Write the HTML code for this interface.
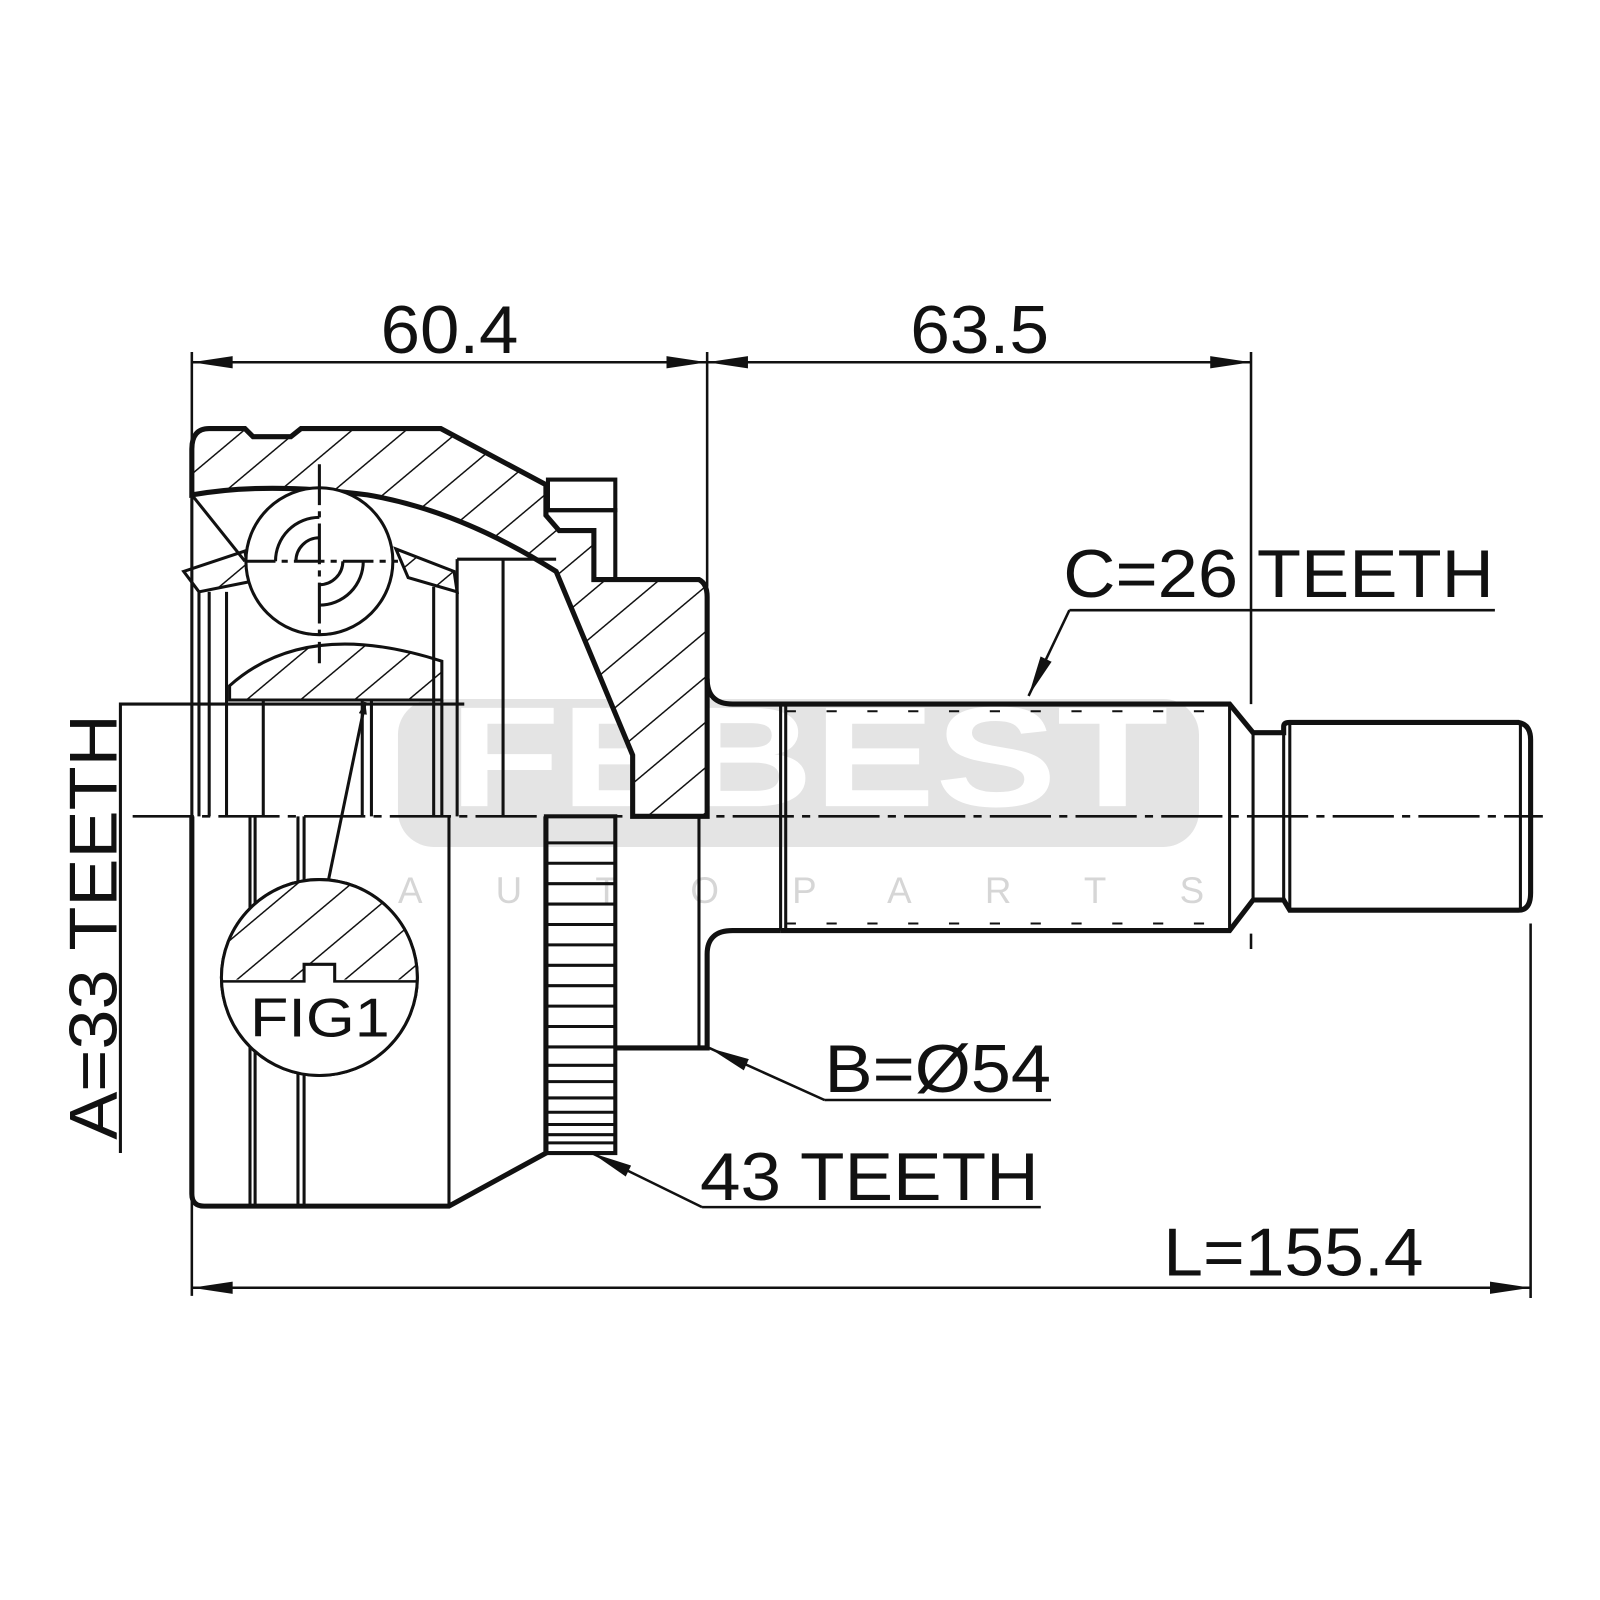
<!DOCTYPE html>
<html><head><meta charset="utf-8"><style>
html,body{margin:0;padding:0;background:#fff;}
svg{display:block;}
text{font-family:"Liberation Sans",sans-serif;fill:#111;}
</style></head><body>
<svg width="1600" height="1600" viewBox="0 0 1568 1568" xmlns="http://www.w3.org/2000/svg">
<defs>
<pattern id="h" patternUnits="userSpaceOnUse" width="34" height="34" patternTransform="rotate(-40)">
<rect width="34" height="34" fill="#fff"/><line x1="0" y1="0" x2="34" y2="0" stroke="#111" stroke-width="3"/>
</pattern>
<marker id="ar" markerWidth="12" markerHeight="8" refX="12" refY="4" orient="auto" markerUnits="userSpaceOnUse">
<path d="M0,0 L12,4 L0,8 Z" fill="#111"/></marker>
<marker id="ar2" markerWidth="40" markerHeight="12" refX="40" refY="6" orient="auto" markerUnits="userSpaceOnUse">
<path d="M0,0 L40,6 L0,12 Z" fill="#111"/></marker>
</defs>

<!-- watermark -->
<rect x="390" y="685" width="785" height="145" rx="35" fill="#e4e4e4"/>
<text x="440" y="790" font-size="140" font-weight="bold" style="fill:#fff" textLength="705" lengthAdjust="spacingAndGlyphs">FEBEST</text>
<text x="390" y="885" font-size="36" style="fill:#d6d6d6" textLength="790" lengthAdjust="spacing">AUTOPARTS</text>

<g stroke="#111" fill="none" stroke-width="3">
<path d="M188,440 Q188,420 205,420 L240,420 L248,428 L285,428 L295,420 L432,420 L535,475 L535,505 L548,520 L582,520 L582,568 L685,568 Q693,572 693,585 L693,800 L620,800 L620,740 L545,560 Q450,500 360,485 Q260,472 188,485 Z" fill="url(#h)" stroke-width="5"/>
<rect x="537" y="470" width="66" height="30" fill="#fff" stroke-width="4"/>
<path d="M537,500 L603,500 L603,568" stroke-width="4"/>
<path d="M225,672 Q300,605 433,648 L433,686 L225,686 Z" fill="url(#h)"/>
<path d="M180,560 L240,540 L245,570 L195,580 Z" fill="url(#h)"/>
<path d="M388,538 L445,560 L448,580 L400,566 Z" fill="url(#h)"/>
<circle cx="313" cy="550" r="72" fill="#fff"/>
<path d="M270,550 A43,43 0 0 1 313,507 M290,550 A23,23 0 0 1 313,527 M313,593 A43,43 0 0 0 356,550 M313,573 A23,23 0 0 0 336,550"/>
<line x1="313" y1="455" x2="313" y2="650" stroke-dasharray="40,6,6,6"/>
<line x1="240" y1="550" x2="390" y2="550" stroke-dasharray="30,6,6,6"/>
<path d="M188,485 L240,550"/>
<path d="M188,440 L188,800 M195,580 L195,800 M205,580 L205,800 M222,580 L222,800 M258,686 L258,800 M355,686 L355,800 M364,686 L364,800 M425,575 L425,800 M433,686 L433,800 M448,548 L448,800 M493,548 L493,800 M448,548 L545,548"/>
<path d="M188,800 L188,1170 Q188,1182 200,1182 L440,1182 L535,1130 L535,800" stroke-width="5"/>
<path d="M245,800 L245,1182 M250,800 L250,1182 M292,800 L292,1182 M298,800 L298,1182 M440,800 L440,1182"/>
<rect x="535" y="800" width="68" height="330" stroke-width="4"/>
<path d="M535,826 H603 M535,846 H603 M535,866 H603 M535,886 H603 M535,906 H603 M535,926 H603 M535,946 H603 M535,966 H603 M535,986 H603 M535,1006 H603 M535,1026 H603 M535,1044 H603 M535,1060 H603 M535,1076 H603 M535,1090 H603 M535,1102 H603 M535,1112 H603 M535,1120 H603"/>
<path d="M603,1027 L693,1027 L693,935 Q693,912 718,912 L765,912" stroke-width="5"/>
<path d="M685,800 L685,1027"/>
<path d="M693,665 Q693,690 718,690 L1205,690 L1228,718 L1258,718 L1258,712 Q1258,708 1264,708 L1488,708 Q1500,710 1500,725 L1500,875 Q1500,892 1488,892 L1264,892 L1258,882 L1228,882 L1205,912 L765,912" stroke-width="5"/>
<path d="M765,690 L765,912 M770,690 L770,912 M1205,690 L1205,912 M1228,718 L1228,882 M1258,718 L1258,882 M1264,708 L1264,892 M1490,708 L1490,892"/>
<path d="M770,697 H1200 M770,905 H1200" stroke-dasharray="10,30" stroke-width="2"/>

<line x1="130" y1="800" x2="1512" y2="800" stroke-width="2.5" stroke-dasharray="60,8,8,8"/>

<circle cx="313" cy="958" r="96" fill="#fff"/>
<clipPath id="fc"><circle cx="313" cy="958" r="95"/></clipPath>
<rect x="210" y="860" width="210" height="100" fill="url(#h)" clip-path="url(#fc)" stroke="none"/>
<path d="M217,962 L298,962 L298,945 L328,945 L328,962 L410,962" fill="#fff" stroke-width="3"/>
<rect x="215" y="963" width="200" height="95" fill="#fff" stroke="none" clip-path="url(#fc)"/>
<circle cx="313" cy="958" r="96"/>
<line x1="322" y1="862" x2="358" y2="688" marker-end="url(#ar)"/>

<path d="M188,345 L188,1270 M693,345 L693,575 M1226,345 L1226,690 M1226,915 L1226,930 M1500,905 L1500,1272" stroke-width="2.5"/>
<line x1="188" y1="355" x2="693" y2="355" marker-end="url(#ar2)" stroke-width="2.5"/>
<line x1="693" y1="355" x2="1226" y2="355" marker-end="url(#ar2)" stroke-width="2.5"/>
<path d="M188,355 L228,349 L228,361 Z M693,355 L733,349 L733,361 Z" fill="#111" stroke="none"/>
<line x1="188" y1="1262" x2="1500" y2="1262" marker-end="url(#ar2)" stroke-width="2.5"/>
<path d="M188,1262 L228,1256 L228,1268 Z" fill="#111" stroke="none"/>
<path d="M118,1130 L118,690 L455,690" stroke-width="3"/>
<path d="M1465,598 L1048,598" stroke-width="2.5"/>
<line x1="1048" y1="598" x2="1008" y2="682" marker-end="url(#ar2)" stroke-width="2.5"/>
<path d="M1030,1078 L808,1078" stroke-width="2.5"/>
<line x1="808" y1="1078" x2="695" y2="1027" marker-end="url(#ar2)" stroke-width="2.5"/>
<path d="M1020,1183 L688,1183" stroke-width="2.5"/>
<line x1="688" y1="1183" x2="580" y2="1130" marker-end="url(#ar2)" stroke-width="2.5"/>
</g>

<text x="373" y="346" font-size="66" textLength="135" lengthAdjust="spacingAndGlyphs">60.4</text>
<text x="892" y="346" font-size="66" textLength="136" lengthAdjust="spacingAndGlyphs">63.5</text>
<text x="1042" y="585" font-size="66" textLength="422" lengthAdjust="spacingAndGlyphs">C=26 TEETH</text>
<text x="808" y="1070" font-size="66" textLength="222" lengthAdjust="spacingAndGlyphs">B=Ø54</text>
<text x="686" y="1176" font-size="66" textLength="332" lengthAdjust="spacingAndGlyphs">43 TEETH</text>
<text x="1140" y="1250" font-size="66" textLength="255" lengthAdjust="spacingAndGlyphs">L=155.4</text>
<text x="245" y="1016" font-size="54" textLength="137" lengthAdjust="spacingAndGlyphs">FIG1</text>
<text transform="translate(114,1117) rotate(-90)" font-size="66" textLength="417" lengthAdjust="spacingAndGlyphs">A=33 TEETH</text>
</svg>
</body></html>
